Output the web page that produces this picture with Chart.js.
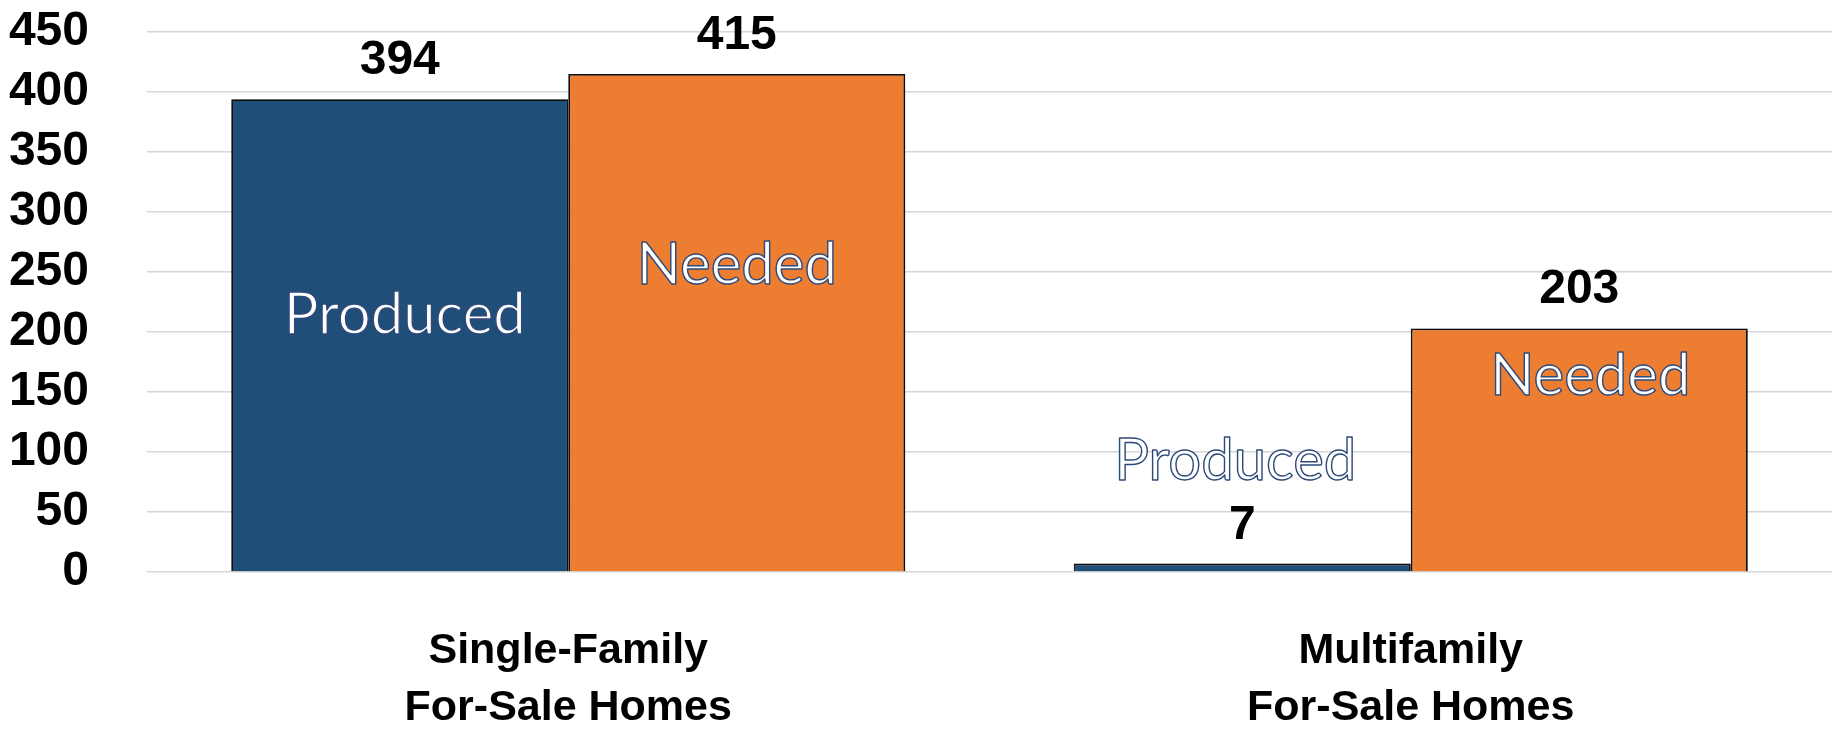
<!DOCTYPE html>
<html>
<head>
<meta charset="utf-8">
<script src="https://cdn.jsdelivr.net/npm/chart.js@4.4.1/dist/chart.umd.min.js"></script>
<style>
	html, body { margin: 0; padding: 0; background: #ffffff; }
	#wrap { width: 1836px; height: 729px; }
</style>
</head>
<body>
<div id="wrap"><canvas id="homesChart" width="1836" height="729"></canvas></div>
<script>
// chart data
const categories = [['Single-Family', 'For-Sale Homes'], ['Multifamily', 'For-Sale Homes']];
const seriesNames = ['Produced', 'Needed'];
const produced = [394, 7];
const needed = [415, 203];
const yTicks = [0, 50, 100, 150, 200, 250, 300, 350, 400, 450];

const BLUE = '#1f4e79';
const ORANGE = '#ed7d31';
const BOLD_FONT = '"Liberation Sans", Arial, sans-serif';

// soft drop shadow under the bars
const barShadow = {
	id: 'barShadow',
	beforeDatasetsDraw(chart) {
		const ctx = chart.ctx;
		ctx.save();
		ctx.shadowColor = 'rgba(0, 0, 0, 0.35)';
		ctx.shadowBlur = 10;
		ctx.shadowOffsetX = 3;
		ctx.shadowOffsetY = 1;
	},
	afterDatasetsDraw(chart) {
		chart.ctx.restore();
	}
};

// numbers over the bars + the series names written on/near the bars
const barLabels = {
	id: 'barLabels',
	afterDatasetsDraw(chart) {
		const ctx = chart.ctx;
		const yScale = chart.scales.y;
		// where the series name sits, in axis units, per dataset / category
		const nameAt = [[215, 93], [257, 164]];
		const nameShift = [[5, -7], [0, 11]];
		ctx.save();
		chart.data.datasets.forEach(function(ds, di) {
			const meta = chart.getDatasetMeta(di);
			meta.data.forEach(function(bar, i) {
				// value label
				ctx.font = 'bold 48px ' + BOLD_FONT;
				ctx.fillStyle = '#000000';
				ctx.textAlign = 'center';
				ctx.textBaseline = 'alphabetic';
				ctx.fillText(String(ds.data[i]), bar.x, bar.y - 25);

				// series name
				const y = yScale.getPixelForValue(nameAt[di][i]) + 20;
				const x = bar.x + nameShift[di][i];
				ctx.font = '58px Lato, "Open Sans", sans-serif';
				ctx.lineJoin = 'round';
				ctx.fillStyle = '#ffffff';
				ctx.fillText(ds.label, x, y);
				ctx.strokeStyle = '#2e4a7a';
				ctx.lineWidth = 1.4;
				ctx.strokeText(ds.label, x, y);
			});
		});
		ctx.restore();
	}
};

const ctx = document.getElementById('homesChart').getContext('2d');
new Chart(ctx, {
	type: 'bar',
	data: {
		labels: categories,
		datasets: [{
			label: seriesNames[0],
			data: produced,
			backgroundColor: BLUE,
			borderColor: '#111111',
			borderWidth: 1.8,
			categoryPercentage: 0.8,
			barPercentage: 1.0
		}, {
			label: seriesNames[1],
			data: needed,
			backgroundColor: ORANGE,
			borderColor: '#111111',
			borderWidth: 1.8,
			categoryPercentage: 0.8,
			barPercentage: 1.0
		}]
	},
	options: {
		responsive: false,
		animation: false,
		layout: { padding: { left: 0, right: 4, top: 32, bottom: 0 } },
		plugins: {
			legend: { display: false },
			tooltip: { enabled: false }
		},
		scales: {
			x: {
				grid: { display: false, drawTicks: false },
				border: { display: false },
				ticks: {
					color: '#000000',
					padding: 51,
					font: { family: BOLD_FONT, size: 43, weight: 'bold', lineHeight: 57 / 43 }
				},
				afterFit: function(scale) { scale.height = 157; }
			},
			y: {
				min: 0,
				max: 450,
				afterBuildTicks: function(scale) {
					scale.ticks = yTicks.map(function(v) { return { value: v }; });
				},
				grid: { color: '#d6d6d6', lineWidth: 1.6, drawTicks: false },
				border: { display: false },
				ticks: {
					autoSkip: false,
					color: '#000000',
					padding: 58,
					font: { family: BOLD_FONT, size: 48, weight: 'bold' }
				},
				afterFit: function(scale) {
					scale.width = 147;
					// the tick padding is only a horizontal gap here
					scale.paddingTop = 0;
					scale.paddingBottom = 0;
				}
			}
		}
	},
	plugins: [barShadow, barLabels]
});
</script>
</body>
</html>
